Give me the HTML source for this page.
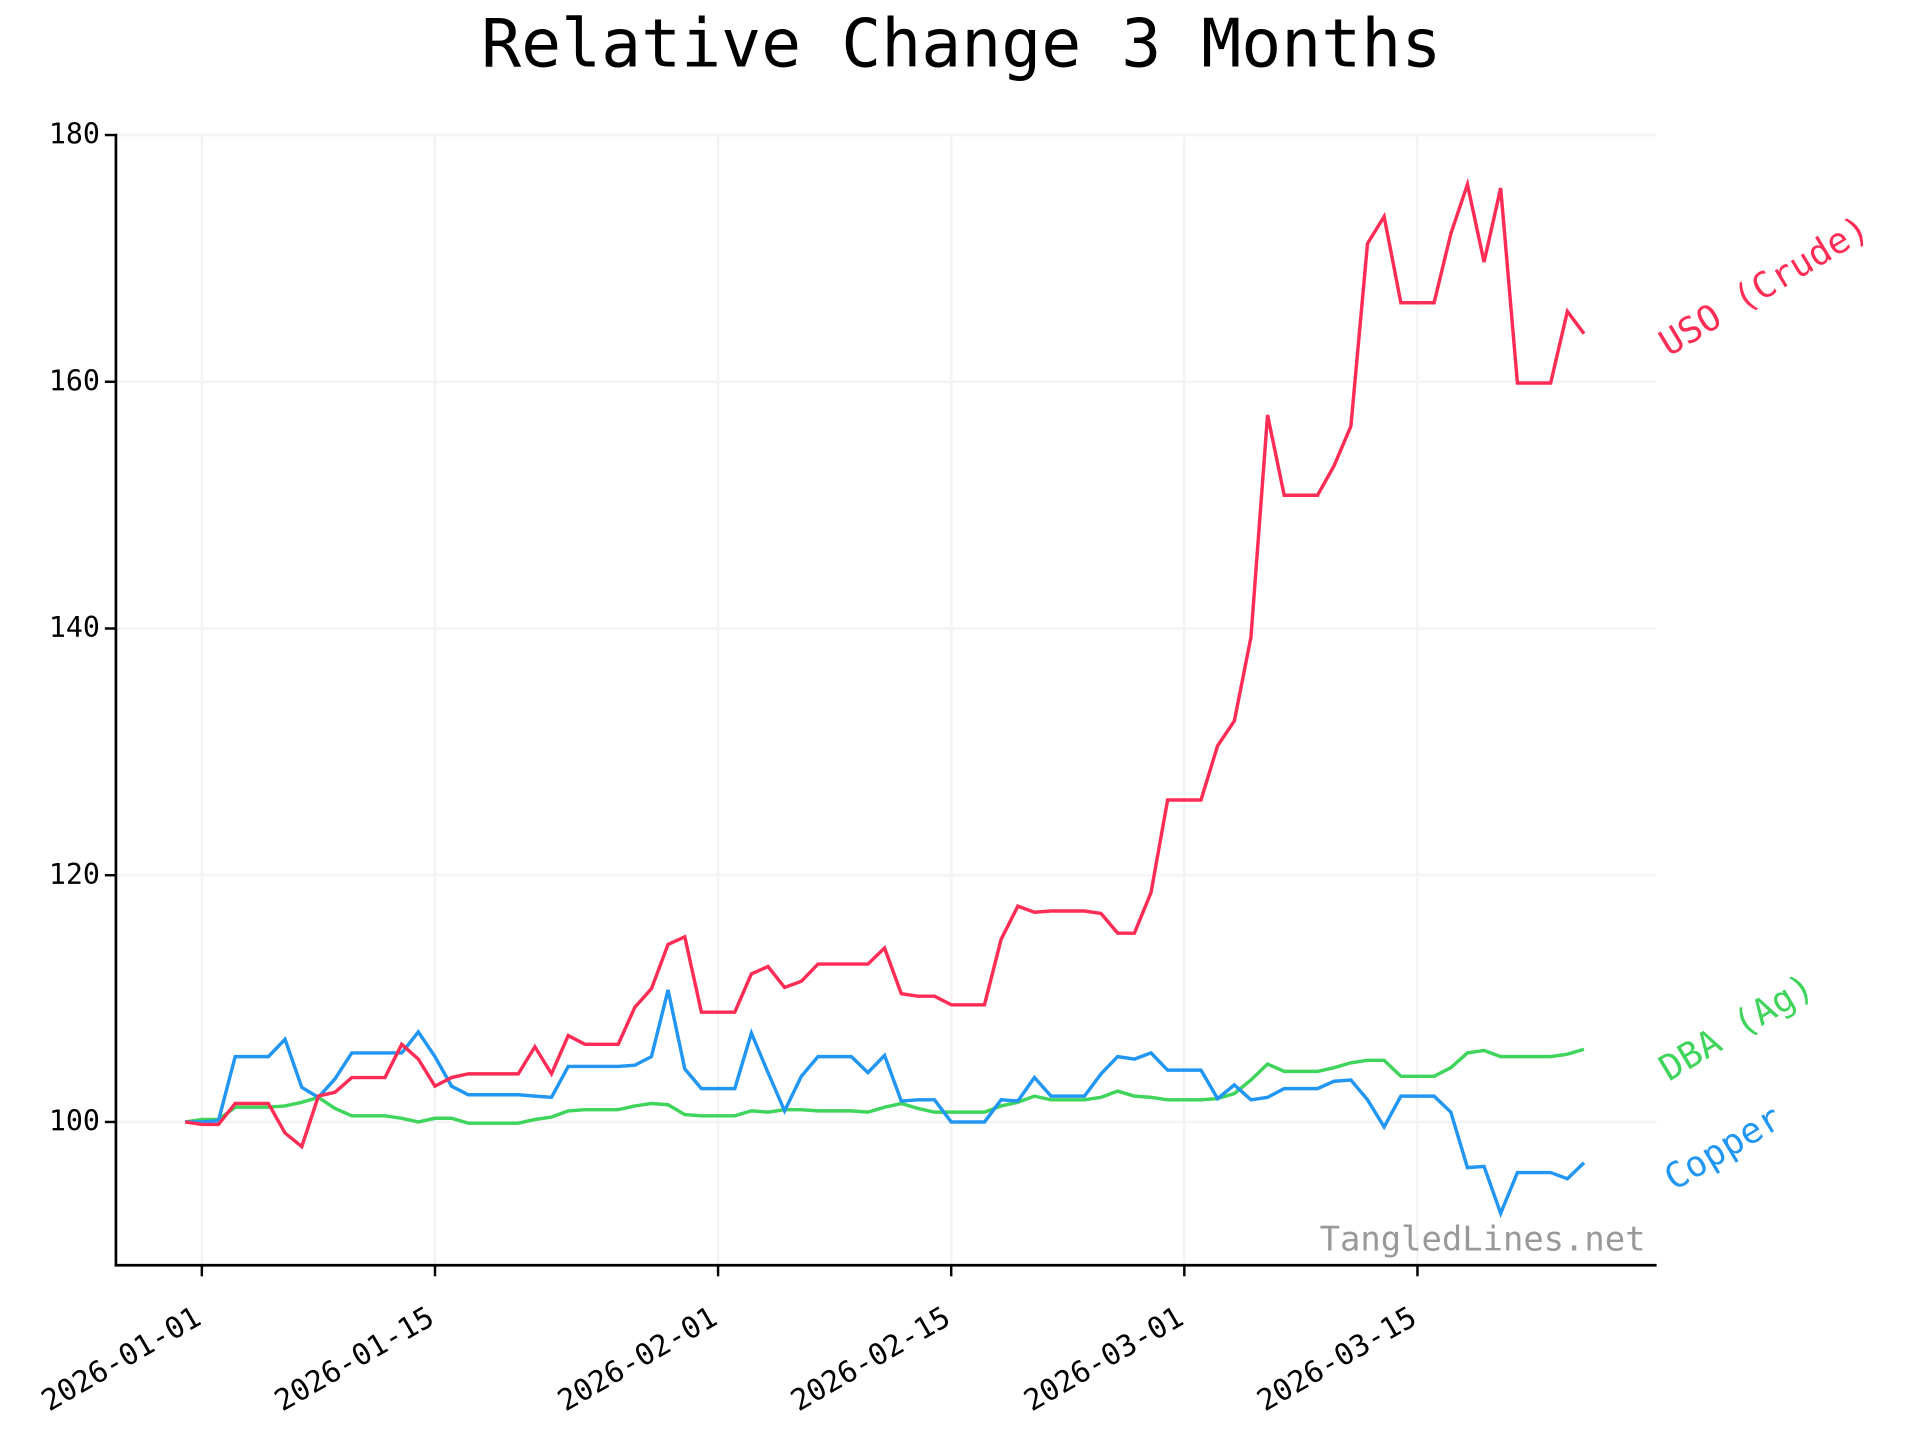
<!DOCTYPE html>
<html><head><meta charset="utf-8"><style>
html,body{margin:0;padding:0;background:#fff}
svg{display:block}
text{font-family:"DejaVu Sans Mono","Liberation Mono",monospace}
</style></head><body>
<svg id="chart" width="1920" height="1440" viewBox="0 0 1560 1170" xmlns="http://www.w3.org/2000/svg">
<rect width="1560" height="1170" fill="#fff"/>
<text x="781" y="54" text-anchor="middle" font-size="54">Relative Change 3 Months</text>
<g id="grid"></g>
<g id="series"></g>
<g id="axes"></g>
<text x="1337" y="1016" text-anchor="end" font-size="27.5" fill="#999">TangledLines.net</text>
</svg>
<script>
const startDate = "2025-12-31";
const yTicks = [100,120,140,160,180];
const xTickLabels = ["2026-01-01","2026-01-15","2026-02-01","2026-02-15","2026-03-01","2026-03-15"];
const usoValues = [100,99.8,99.8,101.5,101.5,101.5,99.1,98,102.1,102.4,103.6,103.6,103.6,106.3,105.1,102.9,103.6,103.9,103.9,103.9,103.9,106.1,103.9,107,106.3,106.3,106.3,109.3,110.8,114.4,115,108.9,108.9,108.9,112,112.6,110.9,111.4,112.8,112.8,112.8,112.8,114.1,110.4,110.2,110.2,109.5,109.5,109.5,114.8,117.5,117,117.1,117.1,117.1,116.9,115.3,115.3,118.6,126.1,126.1,126.1,130.5,132.5,139.3,157.3,150.8,150.8,150.8,153.2,156.4,171.2,173.4,166.4,166.4,166.4,172,176,169.7,175.7,159.9,159.9,159.9,165.7,163.9];
const copperValues = [100,100,100.1,105.3,105.3,105.3,106.7,102.8,102,103.5,105.6,105.6,105.6,105.6,107.3,105.3,102.9,102.2,102.2,102.2,102.2,102.1,102,104.5,104.5,104.5,104.5,104.6,105.3,110.7,104.3,102.7,102.7,102.7,107.2,104,100.9,103.7,105.3,105.3,105.3,104,105.4,101.7,101.8,101.8,100,100,100,101.8,101.7,103.6,102.1,102.1,102.1,103.9,105.3,105.1,105.6,104.2,104.2,104.2,101.9,103,101.8,102,102.7,102.7,102.7,103.3,103.4,101.8,99.6,102.1,102.1,102.1,100.8,96.3,96.4,92.6,95.9,95.9,95.9,95.4,96.7];
const dbaValues = [100,100.2,100.2,101.2,101.2,101.2,101.3,101.6,102,101.1,100.5,100.5,100.5,100.3,100,100.3,100.3,99.9,99.9,99.9,99.9,100.2,100.4,100.9,101,101,101,101.3,101.5,101.4,100.6,100.5,100.5,100.5,100.9,100.8,101,101,100.9,100.9,100.9,100.8,101.2,101.5,101.1,100.8,100.8,100.8,100.8,101.3,101.6,102.1,101.8,101.8,101.8,102,102.5,102.1,102,101.8,101.8,101.8,101.9,102.3,103.4,104.7,104.1,104.1,104.1,104.4,104.8,105,105,103.7,103.7,103.7,104.4,105.6,105.8,105.3,105.3,105.3,105.3,105.5,105.9];

const NS="http://www.w3.org/2000/svg";
const L=94.2,R=1346,B=1028,T=109.7;
const pxPerUnit=(911.6-109.7)/80;
function yScale(v){return 911.6-(v-100)*pxPerUnit;}
const dayMs=86400000, t0=Date.parse("2026-01-01T00:00:00Z"), pxPerDay=13.53;
function xScaleDate(s){return 164+pxPerDay*((Date.parse(s+"T00:00:00Z")-t0)/dayMs);}
function xIdx(i){return xScaleDate(startDate)+pxPerDay*i;}
function mk(tag,attrs,parent){const e=document.createElementNS(NS,tag);for(const k in attrs)e.setAttribute(k,attrs[k]);parent.appendChild(e);return e;}
const grid=document.getElementById('grid'),axes=document.getElementById('axes'),series=document.getElementById('series');

yTicks.forEach(v=>{const y=yScale(v);
 const g=mk('line',{x1:L,x2:R,y1:y,y2:y,stroke:'#f4f4f4','stroke-width':2.2},grid);
 
 
 const t=mk('line',{x1:L-9,x2:L,y1:y,y2:y,stroke:'#000','stroke-width':2},axes);
 
 
 const tx=mk('text',{x:L-13,y:y+7,'text-anchor':'end','font-size':23},axes);tx.textContent=v;
 
 
});
xTickLabels.forEach(s=>{const x=xScaleDate(s);
 const g=mk('line',{x1:x,x2:x,y1:T,y2:B,stroke:'#f4f4f4','stroke-width':2.2},grid);
 
 
 const t=mk('line',{x1:x,x2:x,y1:B,y2:B+9,stroke:'#000','stroke-width':2},axes);
 
 
 const ax=x+1, ay=B+47;
 const tx=mk('text',{x:ax,y:ay,'text-anchor':'end','font-size':24,transform:`rotate(-30 ${ax} ${ay})`},axes);tx.textContent=s;
 
 
});
const ya=mk('line',{x1:L,x2:L,y1:T-1,y2:B+1,stroke:'#000','stroke-width':2.2},axes);


const xa=mk('line',{x1:L-1,x2:R,y1:B,y2:B,stroke:'#000','stroke-width':2.2},axes);



function draw(vals,color,name,label,lx,ly){
 const p=mk('polyline',{points:vals.map((v,i)=>xIdx(i).toFixed(1)+','+yScale(v).toFixed(1)).join(' '),fill:'none',stroke:color,'stroke-width':2.8,'stroke-linejoin':'miter'},series);
 
 
 const t=mk('text',{x:lx,y:ly,'font-size':29,fill:color,transform:`rotate(-31 ${lx} ${ly})`},series);t.textContent=label;
 
 
}
draw(dbaValues,'#3fd45b','dba-line','DBA (Ag)',1356,879);
draw(copperValues,'#2196f3','copper-line','Copper',1360,968);
draw(usoValues,'#ff2d55','uso-line','USO (Crude)',1356,290);
</script>
</body></html>
